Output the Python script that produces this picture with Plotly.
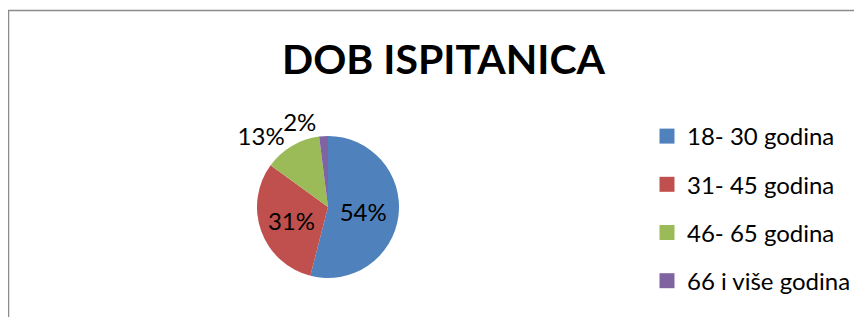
import plotly.graph_objects as go

categories = ["18- 30 godina", "31- 45 godina", "46- 65 godina", "66 i više godina"]
values = [54, 31, 13, 2]
colors = ["#4F81BD", "#C0504D", "#9BBB59", "#8064A2"]
title_text = "DOB ISPITANICA"

# the page body adds an 8px offset, so the figure is sized to end at the window edge
W, H = 854, 309
FONT = "Lato"
pie_domain = dict(x=[249 / W, 391 / W], y=[1 - 270 / H, 1 - 128 / H])

fig = go.Figure()

# Main pie: slices plus labels of the first three slices
fig.add_trace(go.Pie(
    labels=categories,
    values=values,
    sort=False,
    direction="clockwise",
    rotation=0,
    marker=dict(colors=colors, line=dict(width=0)),
    textinfo="percent",
    texttemplate="%{percent:.0%}",
    textposition=["inside", "inside", "outside", "none"],
    insidetextorientation="horizontal",
    textfont=dict(family=FONT, size=24, color="black"),
    insidetextfont=dict(family=FONT, size=24, color="black"),
    outsidetextfont=dict(family=FONT, size=24, color="black"),
    domain=pie_domain,
    showlegend=False,
    hoverinfo="label+percent",
))

# Transparent overlay carrying only the label of the smallest slice
fig.add_trace(go.Pie(
    labels=categories,
    values=values,
    sort=False,
    direction="clockwise",
    rotation=0,
    marker=dict(colors=["rgba(0,0,0,0)"] * len(values), line=dict(width=0)),
    textinfo="percent",
    texttemplate="%{percent:.0%}",
    textposition=["none", "none", "none", "outside"],
    outsidetextfont=dict(family=FONT, size=24, color="black"),
    domain=pie_domain,
    showlegend=False,
    hoverinfo="skip",
))

for i, (name, col) in enumerate(zip(categories, colors)):
    fig.add_trace(go.Scatter(
        x=[None], y=[None], mode="markers", name=name,
        marker=dict(symbol="square", size=15, color=col),
        legendgroup=f"g{i}", showlegend=True,
    ))

fig.add_shape(type="rect", xref="paper", yref="paper",
              x0=0.5 / W, x1=1.02, y0=-0.05, y1=1 - 2.5 / H,
              line=dict(color="#8c8c8c", width=1.5), fillcolor="rgba(0,0,0,0)")

fig.update_layout(
    width=W, height=H,
    margin=dict(l=0, r=0, t=0, b=0, autoexpand=False),
    paper_bgcolor="white", plot_bgcolor="white",
    title=dict(text=title_text, x=435.5 / W, xanchor="center",
               y=1 - 52 / H, yanchor="middle",
               font=dict(family=FONT, size=41, color="black", weight="bold")),
    xaxis=dict(visible=False),
    yaxis=dict(visible=False),
    legend=dict(x=639 / W, y=1 - 106 / H, xanchor="left", yanchor="top",
                font=dict(family=FONT, size=24, color="black"),
                tracegroupgap=14, itemsizing="trace", bgcolor="rgba(0,0,0,0)"),
)

fig.write_html("out.html")
